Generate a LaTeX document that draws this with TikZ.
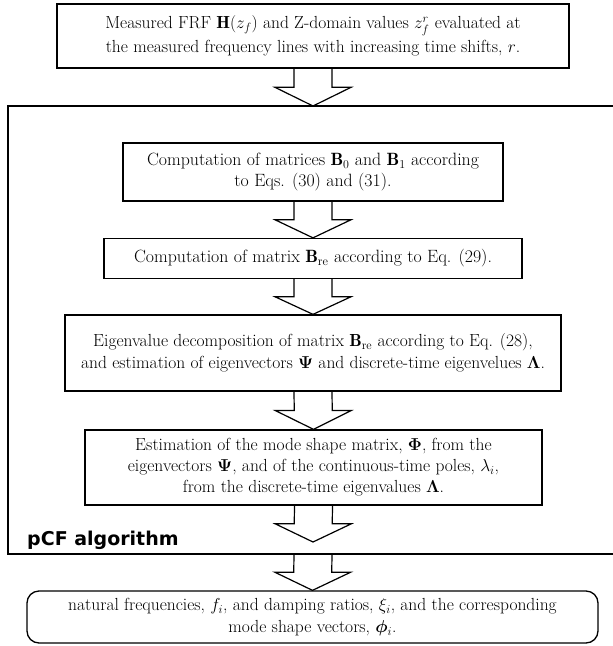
\documentclass[tikz,border=0pt]{standalone}
\usepackage{amsmath}
\usepackage{bm}
\usepackage{fontspec}
\newfontfamily\labelfont{DejaVu Sans}
\usetikzlibrary{calc}
\newcommand\blockarr[2]{%
  \draw[arrline] ($(#1)+(-19,0)$) -- ($(#1)!0.5!(#2)+(-19,0)$) -- ($(#1)!0.5!(#2)+(-38,0)$) -- (#2)
    -- ($(#1)!0.5!(#2)+(38,0)$) -- ($(#1)!0.5!(#2)+(19,0)$) -- ($(#1)+(19,0)$);}
\tikzset{
  box/.style={draw, line width=1.3pt, align=center, inner sep=0pt, fill=white},
  txt/.style 2 args={font=\fontsize{#1}{#2}\selectfont},
  arrline/.style={line width=1.2pt, line join=miter},
  frameline/.style={line width=1.3pt}
}
\begin{document}
\begin{tikzpicture}[x=1pt,y=-1pt]
\useasboundingbox (0,0) rectangle (613,646);
\clip (0,0) rectangle (613,646);
% outer frame (open on the right, continues beyond the picture)
\coordinate (frtop) at (313,106);
\coordinate (frbot) at (313,554);
\draw[frameline] (630,106) -- (8,106) -- (8,554) -- (630,554);
\node[anchor=base west, inner sep=0pt, font=\labelfont\bfseries\fontsize{19}{22}\selectfont] (pcf) at (27,545) {pCF algorithm};

\node[box, txt={17.5}{24}, minimum width=512pt, minimum height=64pt] (top) at (313,36)
  {Measured FRF $\mathbf{H}(z_f)$ and Z-domain values $z_f^r$ evaluated at\\
   the measured frequency lines with increasing time shifts, $r$.};
\node[box, txt={17.8}{21}, minimum width=380pt, minimum height=58pt] (b2) at (313,172)
  {Computation of matrices $\mathbf{B}_0$ and $\mathbf{B}_1$ according\\ to Eqs. (30) and (31).};
\node[box, txt={17.8}{21}, minimum width=418pt, minimum height=40pt] (b3) at (313,258.5)
  {Computation of matrix $\mathbf{B}_{\mathrm{re}}$ according to Eq. (29).};
\node[box, txt={17.5}{22}, minimum width=496pt, minimum height=76pt] (b4) at (313,353)
  {Eigenvalue decomposition of matrix $\mathbf{B}_{\mathrm{re}}$ according to Eq. (28),\\
   and estimation of eigenvectors $\bm{\Psi}$ and discrete-time eigenvelues $\bm{\Lambda}$.};
\node[box, txt={17.5}{21}, minimum width=457pt, minimum height=75pt] (b5) at (313.5,467.5)
  {Estimation of the mode shape matrix, $\bm{\Phi}$, from the\\
   eigenvectors $\bm{\Psi}$, and of the continuous-time poles, $\lambda_i$,\\
   from the discrete-time eigenvalues $\bm{\Lambda}$.};
\node[box, txt={17.5}{22}, rounded corners=12pt, minimum width=571pt, minimum height=52pt] (res) at (312.5,617)
  {natural frequencies, $f_i$, and damping ratios, $\xi_i$, and the corresponding\\
   mode shape vectors, $\bm{\phi}_i$.};
\coordinate (tipA) at (313,542);

\blockarr{top.south}{frtop}
\blockarr{b2.south}{b3.north}
\blockarr{b3.south}{b4.north}
\blockarr{b4.south}{b5.north}
\blockarr{b5.south}{tipA}
\blockarr{frbot}{res.north}
\end{tikzpicture}
\end{document}
